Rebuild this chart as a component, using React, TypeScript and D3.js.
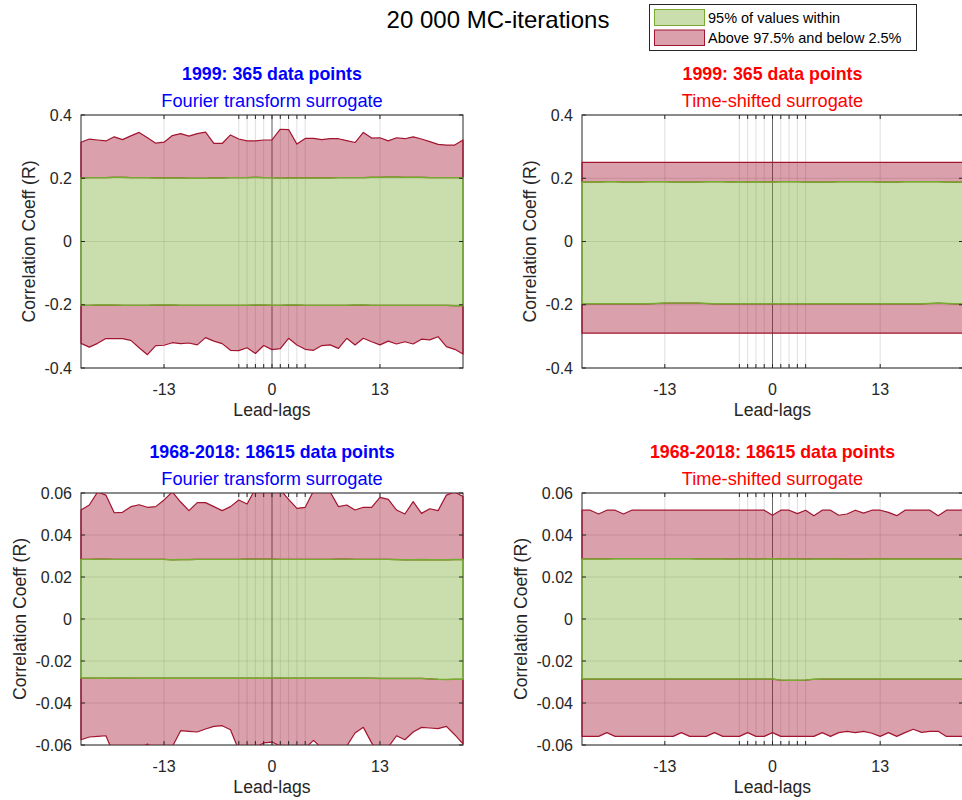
import React from 'react';
import * as d3 from 'd3';

const lags = [-23,-22,-21,-20,-19,-18,-17,-16,-15,-14,-13,-12,-11,-10,-9,-8,-7,-6,-5,-4,-3,-2,-1,0,1,2,3,4,5,6,7,8,9,10,11,12,13,14,15,16,17,18,19,20,21,22,23];
const xTicks = [-13,-4,-3,-2,-1,0,1,2,3,4,13];
const xTickLabels = ['-13','','','','','0','','','','','13'];

const topYTicks = [-0.4,-0.2,0,0.2,0.4];
const topYTickLabels = ['-0.4','-0.2','0','0.2','0.4'];
const botYTicks = [-0.06,-0.04,-0.02,0,0.02,0.04,0.06];
const botYTickLabels = ['-0.06','-0.04','-0.02','0','0.02','0.04','0.06'];

// Top-left: 1999, Fourier transform surrogate
const tlMax = [0.314,0.324,0.321,0.318,0.331,0.322,0.334,0.345,0.328,0.311,0.314,0.335,0.341,0.333,0.341,0.346,0.310,0.310,0.337,0.324,0.318,0.318,0.321,0.321,0.355,0.354,0.308,0.326,0.326,0.322,0.325,0.325,0.319,0.313,0.345,0.327,0.328,0.318,0.328,0.325,0.331,0.324,0.316,0.307,0.305,0.305,0.321];
const tlHi = [0.201,0.202,0.202,0.202,0.203,0.203,0.202,0.202,0.202,0.201,0.201,0.201,0.201,0.200,0.200,0.200,0.201,0.201,0.202,0.202,0.202,0.203,0.202,0.202,0.200,0.201,0.201,0.201,0.201,0.201,0.201,0.202,0.202,0.202,0.202,0.203,0.203,0.204,0.204,0.203,0.203,0.203,0.202,0.202,0.202,0.202,0.202];
const tlLo = [-0.202,-0.202,-0.201,-0.201,-0.201,-0.202,-0.202,-0.202,-0.202,-0.201,-0.201,-0.201,-0.202,-0.202,-0.202,-0.202,-0.202,-0.202,-0.202,-0.202,-0.202,-0.201,-0.201,-0.202,-0.202,-0.201,-0.201,-0.202,-0.202,-0.202,-0.202,-0.202,-0.202,-0.201,-0.201,-0.202,-0.202,-0.202,-0.202,-0.202,-0.202,-0.202,-0.202,-0.202,-0.202,-0.203,-0.203];
const tlMin = [-0.322,-0.334,-0.322,-0.307,-0.307,-0.307,-0.3125,-0.336,-0.358,-0.329,-0.328,-0.320,-0.323,-0.321,-0.327,-0.304,-0.315,-0.323,-0.344,-0.345,-0.336,-0.354,-0.329,-0.342,-0.339,-0.306,-0.327,-0.341,-0.344,-0.329,-0.327,-0.338,-0.306,-0.327,-0.306,-0.317,-0.327,-0.315,-0.324,-0.317,-0.324,-0.309,-0.311,-0.301,-0.3325,-0.341,-0.356];

// Top-right: 1999, Time-shifted surrogate
const trMax = [0.25,0.25,0.25,0.25,0.25,0.25,0.25,0.25,0.25,0.25,0.25,0.25,0.25,0.25,0.25,0.25,0.25,0.25,0.25,0.25,0.25,0.25,0.25,0.25,0.25,0.25,0.25,0.25,0.25,0.25,0.25,0.25,0.25,0.25,0.25,0.25,0.25,0.25,0.25,0.25,0.25,0.25,0.25,0.25,0.25,0.25,0.25];
const trHi = [0.188,0.188,0.188,0.189,0.189,0.188,0.188,0.188,0.189,0.189,0.189,0.188,0.188,0.188,0.188,0.189,0.189,0.189,0.188,0.189,0.188,0.189,0.188,0.188,0.189,0.189,0.189,0.188,0.188,0.188,0.188,0.189,0.189,0.189,0.189,0.189,0.188,0.188,0.188,0.189,0.189,0.189,0.189,0.189,0.188,0.188,0.188];
const trLo = [-0.197,-0.197,-0.197,-0.197,-0.197,-0.197,-0.197,-0.197,-0.197,-0.196,-0.195,-0.195,-0.195,-0.195,-0.195,-0.196,-0.197,-0.197,-0.197,-0.197,-0.197,-0.197,-0.197,-0.197,-0.197,-0.197,-0.197,-0.197,-0.197,-0.197,-0.197,-0.197,-0.197,-0.197,-0.197,-0.197,-0.197,-0.197,-0.197,-0.197,-0.197,-0.197,-0.196,-0.195,-0.196,-0.197,-0.197];
const trMin = [-0.29,-0.29,-0.29,-0.29,-0.29,-0.29,-0.29,-0.29,-0.29,-0.29,-0.29,-0.29,-0.29,-0.29,-0.29,-0.29,-0.29,-0.29,-0.29,-0.29,-0.29,-0.29,-0.29,-0.29,-0.29,-0.29,-0.29,-0.29,-0.29,-0.29,-0.29,-0.29,-0.29,-0.29,-0.29,-0.29,-0.29,-0.29,-0.29,-0.29,-0.29,-0.29,-0.29,-0.29,-0.29,-0.29,-0.29];

// Bottom-left: 1968-2018, Fourier transform surrogate
const blMax = [0.0519,0.0543,0.0605,0.0590,0.0506,0.0508,0.0535,0.0544,0.0532,0.0535,0.0567,0.0605,0.0557,0.0516,0.0554,0.0554,0.0535,0.0516,0.0535,0.0567,0.0548,0.0620,0.0660,0.0640,0.0615,0.0570,0.0527,0.0532,0.0610,0.0640,0.0605,0.0535,0.0543,0.0519,0.0532,0.0532,0.0579,0.0570,0.0519,0.0500,0.0559,0.0503,0.0525,0.0516,0.0590,0.0605,0.0583];
const blHi = [0.0284,0.0284,0.0285,0.0285,0.0284,0.0284,0.0284,0.0284,0.0284,0.0284,0.0284,0.0282,0.0283,0.0283,0.0284,0.0284,0.0284,0.0284,0.0284,0.0284,0.0285,0.0285,0.0285,0.0285,0.0284,0.0284,0.0284,0.0284,0.0284,0.0284,0.0284,0.0285,0.0285,0.0284,0.0284,0.0284,0.0284,0.0284,0.0283,0.0282,0.0282,0.0283,0.0282,0.0282,0.0282,0.0283,0.0283];
const blLo = [-0.0281,-0.0281,-0.0282,-0.0282,-0.0281,-0.0281,-0.0281,-0.0282,-0.0282,-0.0282,-0.0282,-0.0282,-0.0282,-0.0282,-0.0282,-0.0282,-0.0282,-0.0282,-0.0282,-0.0282,-0.0282,-0.0282,-0.0282,-0.0281,-0.0281,-0.0282,-0.0282,-0.0282,-0.0282,-0.0282,-0.0282,-0.0282,-0.0282,-0.0282,-0.0282,-0.0282,-0.0283,-0.0283,-0.0283,-0.0283,-0.0283,-0.0283,-0.0285,-0.0287,-0.0288,-0.0287,-0.0287];
const blMin = [-0.0575,-0.0562,-0.0559,-0.0556,-0.0650,-0.0640,-0.0630,-0.0620,-0.0595,-0.0625,-0.0640,-0.0608,-0.0532,-0.0535,-0.0538,-0.0524,-0.0511,-0.0508,-0.0527,-0.0625,-0.0650,-0.0612,-0.0590,-0.0586,-0.0605,-0.0640,-0.0630,-0.0615,-0.0578,-0.0615,-0.0640,-0.0635,-0.0605,-0.0543,-0.0516,-0.0590,-0.0650,-0.0610,-0.0556,-0.0575,-0.0538,-0.0516,-0.0519,-0.0522,-0.0511,-0.0551,-0.0595];

// Bottom-right: 1968-2018, Time-shifted surrogate
const brMax = [0.0518,0.0518,0.0500,0.0518,0.0518,0.0500,0.0518,0.0518,0.0518,0.0518,0.0518,0.0518,0.0518,0.0518,0.0518,0.0518,0.0518,0.0518,0.0518,0.0518,0.0518,0.0518,0.0518,0.0494,0.0518,0.0518,0.0502,0.0518,0.0492,0.0518,0.0518,0.0494,0.0500,0.0518,0.0504,0.0518,0.0518,0.0508,0.0492,0.0518,0.0518,0.0518,0.0518,0.0492,0.0518,0.0518,0.0518];
const brHi = [0.0286,0.0286,0.0286,0.0286,0.0287,0.0287,0.0287,0.0287,0.0287,0.0287,0.0287,0.0287,0.0287,0.0287,0.0286,0.0286,0.0286,0.0286,0.0285,0.0286,0.0286,0.0285,0.0286,0.0287,0.0286,0.0286,0.0286,0.0285,0.0286,0.0286,0.0286,0.0286,0.0285,0.0285,0.0285,0.0286,0.0286,0.0286,0.0286,0.0286,0.0286,0.0286,0.0286,0.0286,0.0286,0.0286,0.0285];
const brLo = [-0.0286,-0.0286,-0.0286,-0.0286,-0.0286,-0.0286,-0.0286,-0.0286,-0.0286,-0.0286,-0.0286,-0.0286,-0.0286,-0.0286,-0.0286,-0.0286,-0.0286,-0.0286,-0.0286,-0.0286,-0.0286,-0.0286,-0.0286,-0.0286,-0.0291,-0.0292,-0.0292,-0.0291,-0.0287,-0.0286,-0.0286,-0.0286,-0.0286,-0.0286,-0.0286,-0.0286,-0.0286,-0.0286,-0.0286,-0.0286,-0.0286,-0.0286,-0.0286,-0.0286,-0.0286,-0.0286,-0.0286];
const brMin = [-0.0559,-0.0559,-0.0559,-0.0541,-0.0559,-0.0559,-0.0559,-0.0559,-0.0559,-0.0559,-0.0559,-0.0559,-0.0541,-0.0559,-0.0559,-0.0559,-0.0541,-0.0559,-0.0559,-0.0559,-0.0541,-0.0559,-0.0559,-0.0541,-0.0559,-0.0559,-0.0559,-0.0559,-0.0559,-0.0541,-0.0559,-0.0541,-0.0535,-0.0541,-0.0535,-0.0544,-0.0559,-0.0541,-0.0559,-0.0541,-0.0525,-0.0540,-0.0535,-0.0535,-0.0559,-0.0559,-0.0559];

const legendLabels = ['95% of values within', 'Above 97.5% and below 2.5%'];
const mainTitle = '20 000 MC-iterations';

const FONT = "'Liberation Sans', Arial, Helvetica, sans-serif";
const TXT = '#262626';
const GREEN = '#77ac30';
const RED = '#a2142f';

type PanelProps = {
  id: string;
  l: number; r: number; t: number; b: number;
  yDomain: [number, number];
  yTicks: number[];
  yTickLabels: string[];
  maxV: number[]; hiV: number[]; loV: number[]; minV: number[];
  title: string; subtitle: string; color: string;
  ylabX: number;
};

function Panel(p: PanelProps) {
  const x = d3.scaleLinear().domain([-23, 23]).range([p.l, p.r]);
  const y = d3.scaleLinear().domain(p.yDomain).range([p.b, p.t]);
  const band = (top: number[], bot: number[]) =>
    d3.area<number>()
      .x((d) => x(d))
      .y0((_d, i) => y(bot[i]))
      .y1((_d, i) => y(top[i]))(lags) as string;
  const cx = (p.l + p.r) / 2;
  const cy = (p.t + p.b) / 2;
  const tl = 4;
  return (
    <g>
      <defs>
        <clipPath id={p.id}>
          <rect x={p.l - 1.5} y={p.t} width={p.r - p.l + 3} height={p.b - p.t} />
        </clipPath>
      </defs>
      <rect x={p.l} y={p.t} width={p.r - p.l} height={p.b - p.t} fill="#fff" />
      {xTicks.map((v, i) => (
        <line key={'gx' + i} x1={x(v)} x2={x(v)} y1={p.t} y2={p.b} stroke={TXT} strokeOpacity={0.15} strokeWidth={1} />
      ))}
      {p.yTicks.map((v, i) => (
        <line key={'gy' + i} x1={p.l} x2={p.r} y1={y(v)} y2={y(v)} stroke={TXT} strokeOpacity={0.15} strokeWidth={1} />
      ))}
      <line x1={x(0)} x2={x(0)} y1={p.t} y2={p.b} stroke="#000" strokeOpacity={0.55} strokeWidth={1} />
      <rect x={p.l} y={p.t} width={p.r - p.l} height={p.b - p.t} fill="none" stroke={TXT} strokeWidth={1} />
      <g clipPath={`url(#${p.id})`}>
        <path d={band(p.maxV, p.hiV)} fill={RED} fillOpacity={0.4} stroke={RED} strokeWidth={1.2} strokeLinejoin="round" />
        <path d={band(p.loV, p.minV)} fill={RED} fillOpacity={0.4} stroke={RED} strokeWidth={1.2} strokeLinejoin="round" />
        <path d={band(p.hiV, p.loV)} fill={GREEN} fillOpacity={0.4} stroke={GREEN} strokeWidth={1.4} strokeLinejoin="round" />
      </g>
      {xTicks.map((v, i) => (
        <g key={'tx' + i}>
          <line x1={x(v)} x2={x(v)} y1={p.b} y2={p.b - tl} stroke={TXT} strokeWidth={1} />
          <line x1={x(v)} x2={x(v)} y1={p.t} y2={p.t + tl} stroke={TXT} strokeWidth={1} />
          {xTickLabels[i] !== '' && (
            <text x={x(v)} y={p.b + 27} textAnchor="middle" fontSize={16} fill={TXT} fontFamily={FONT}>{xTickLabels[i]}</text>
          )}
        </g>
      ))}
      {p.yTicks.map((v, i) => (
        <g key={'ty' + i}>
          <line x1={p.l} x2={p.l + tl} y1={y(v)} y2={y(v)} stroke={TXT} strokeWidth={1} />
          <line x1={p.r} x2={p.r - tl} y1={y(v)} y2={y(v)} stroke={TXT} strokeWidth={1} />
          <text x={p.l - 9} y={y(v) + 5.7} textAnchor="end" fontSize={16} fill={TXT} fontFamily={FONT}>{p.yTickLabels[i]}</text>
        </g>
      ))}
      <text x={cx} y={p.b + 48} textAnchor="middle" fontSize={17.6} fill={TXT} fontFamily={FONT}>Lead-lags</text>
      <text transform={`translate(${p.ylabX},${cy}) rotate(-90)`} textAnchor="middle" dominantBaseline="central" fontSize={17.6} fill={TXT} fontFamily={FONT}>Correlation Coeff (R)</text>
      <text x={cx} y={p.t - 35} textAnchor="middle" fontSize={17.8} fontWeight="bold" fill={p.color} fontFamily={FONT}>{p.title}</text>
      <text x={cx} y={p.t - 8} textAnchor="middle" fontSize={18.2} fill={p.color} fontFamily={FONT}>{p.subtitle}</text>
    </g>
  );
}

export default function App() {
  return (
    <svg width={962} height={800} style={{ position: 'absolute', left: 0, top: 0, display: 'block', background: '#fff' }}>
      <rect x={0} y={0} width={962} height={800} fill="#fff" />
      <text x={498} y={28} textAnchor="middle" fontSize={24} fill="#000" fontFamily={FONT}>{mainTitle}</text>
      <Panel id="c1" l={81} r={463} t={115} b={368} yDomain={[-0.4, 0.4]} yTicks={topYTicks} yTickLabels={topYTickLabels}
        maxV={tlMax} hiV={tlHi} loV={tlLo} minV={tlMin} title="1999: 365 data points" subtitle="Fourier transform surrogate" color="#0000ff" ylabX={29} />
      <Panel id="c2" l={582} r={963} t={115} b={368} yDomain={[-0.4, 0.4]} yTicks={topYTicks} yTickLabels={topYTickLabels}
        maxV={trMax} hiV={trHi} loV={trLo} minV={trMin} title="1999: 365 data points" subtitle="Time-shifted surrogate" color="#ff0000" ylabX={530} />
      <Panel id="c3" l={81} r={463} t={493} b={745} yDomain={[-0.06, 0.06]} yTicks={botYTicks} yTickLabels={botYTickLabels}
        maxV={blMax} hiV={blHi} loV={blLo} minV={blMin} title="1968-2018: 18615 data points" subtitle="Fourier transform surrogate" color="#0000ff" ylabX={20} />
      <Panel id="c4" l={582} r={963} t={493} b={745} yDomain={[-0.06, 0.06]} yTicks={botYTicks} yTickLabels={botYTickLabels}
        maxV={brMax} hiV={brHi} loV={brLo} minV={brMin} title="1968-2018: 18615 data points" subtitle="Time-shifted surrogate" color="#ff0000" ylabX={521} />
      <g fontFamily={FONT}>
        <rect x={649.5} y={4.5} width={267} height={46} fill="#fff" stroke={TXT} strokeWidth={1} />
        <rect x={654.5} y={9.5} width={50} height={16} fill={GREEN} fillOpacity={0.4} stroke={GREEN} strokeWidth={1} />
        <rect x={654.5} y={30} width={50} height={15.5} fill={RED} fillOpacity={0.4} stroke={RED} strokeWidth={1} />
        <text x={708} y={23} fontSize={14.5} fill="#000">{legendLabels[0]}</text>
        <text x={708} y={43} fontSize={14.5} fill="#000">{legendLabels[1]}</text>
      </g>
    </svg>
  );
}
